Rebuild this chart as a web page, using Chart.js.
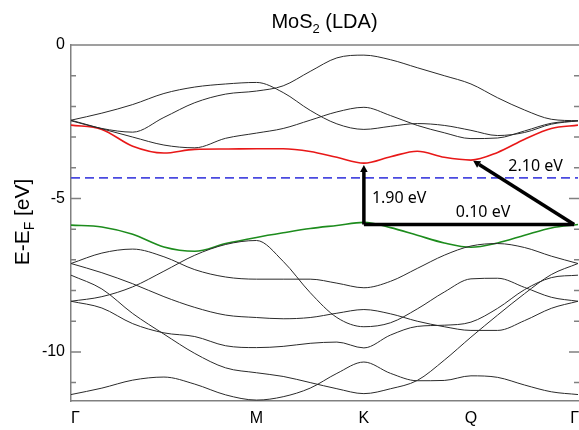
<!DOCTYPE html>
<html lang="en">
<head>
  <meta charset="UTF-8">
  <title>MoS2 (LDA) band structure</title>
  <style>
    html, body { margin: 0; padding: 0; background: #ffffff; }
    #chart-wrap { width: 579px; height: 430px; }
  </style>
</head>
<body>
  <div id="chart-wrap"><canvas id="bandChart"></canvas></div>

  <script src="https://cdn.jsdelivr.net/npm/chart.js@4.4.3/dist/chart.umd.min.js"></script>
  <script>
    // k-path sample points (2pi/a units): Gamma - M - K - Q - Gamma
    const kPath = [0, 0.096, 0.192, 0.289, 0.385, 0.481, 0.577, 0.660, 0.744, 0.827, 0.911,
                   0.994, 1.077, 1.161, 1.244, 1.327, 1.411, 1.494, 1.577];
    const kTicks = [0, 0.577, 0.911, 1.244, 1.577];
    const kLabels = ['Γ', 'M', 'K', 'Q', 'Γ'];
    const yLabelled = [0, -5, -10];

    // conduction bands (eV)
    const cbLowest = [-2.61, -2.75, -3.30, -3.52, -3.40, -3.39, -3.38, -3.38, -3.47, -3.66, -3.85,
                      -3.64, -3.46, -3.66, -3.75, -3.50, -3.07, -2.72, -2.61];
    const cbBandA = [-2.45, -2.22, -1.94, -1.58, -1.37, -1.27, -1.22, -1.55, -2.13, -2.57, -2.75,
                     -2.65, -2.56, -2.62, -2.78, -2.95, -2.85, -2.58, -2.47];
    const cbBandB = [-2.47, -2.72, -2.84, -2.36, -1.88, -1.60, -1.50, -1.33, -0.86, -0.42, -0.33,
                     -0.48, -0.74, -1.00, -1.27, -1.72, -2.12, -2.42, -2.47];
    const cbBandC = [-2.45, -2.73, -3.00, -3.26, -3.35, -3.04, -2.87, -2.72, -2.45, -2.18, -2.03,
                     -2.30, -2.62, -2.86, -3.05, -3.03, -2.80, -2.55, -2.47];

    // valence bands (eV)
    const vbHighest = [-5.87, -5.93, -6.17, -6.58, -6.72, -6.47, -6.27, -6.12, -5.98, -5.88, -5.78,
                       -5.95, -6.20, -6.45, -6.59, -6.45, -6.20, -5.96, -5.85];
    const vbBand1 = [-7.12, -6.78, -6.65, -6.90, -7.32, -7.56, -7.63, -7.63, -7.63, -7.76, -7.91,
                     -7.70, -7.28, -6.85, -6.55, -6.47, -6.60, -6.88, -7.12];
    const vbBand2 = [-7.12, -7.42, -7.78, -8.20, -8.55, -8.80, -8.88, -8.92, -8.88, -8.74, -8.62,
                     -8.76, -9.00, -9.18, -9.30, -9.30, -8.98, -8.58, -8.35];
    const vbBand3 = [-7.50, -7.95, -8.75, -9.42, -10.05, -10.52, -10.68, -10.80, -11.00, -11.20, -11.36,
                     -11.20, -10.93, -10.27, -9.52, -8.80, -8.10, -7.48, -7.12];
    const vbBand4 = [-8.35, -8.20, -7.88, -7.37, -6.85, -6.50, -6.37, -7.05, -8.07, -8.88, -9.18,
                     -9.05, -8.60, -8.05, -7.62, -7.60, -7.90, -8.22, -8.35];
    const vbBand5 = [-8.35, -8.57, -9.08, -9.38, -9.50, -9.80, -9.86, -9.82, -9.72, -9.68, -9.87,
                     -9.45, -9.17, -9.13, -9.03, -8.58, -7.97, -7.58, -7.50];
    const vbBand6 = [-11.39, -11.18, -10.92, -10.82, -11.05, -11.40, -11.57, -11.46, -11.18, -10.70, -10.33,
                     -10.70, -10.94, -10.93, -10.78, -10.83, -11.08, -11.30, -11.39];

    const midGapLevel = -4.33;

    // gap arrows [k1, E1, k2, E2, head at end?]
    const gapArrows = [
      [0.911, -5.85, 0.911, -3.91, true],
      [0.911, -5.85, 1.565, -5.85, false],
      [1.565, -5.85, 1.251, -3.77, true]
    ];
    const gapLabels = [
      { text: '1.90 eV', k: 0.936, e: -5.00, align: 'left' },
      { text: '0.10 eV', k: 1.2815, e: -5.45, align: 'center' },
      { text: '2.10 eV', k: 1.445, e: -3.95, align: 'center' }
    ];

    const FONT = "'Liberation Sans', Arial, Helvetica, sans-serif";
    const FRAME = '#808080';

    function band(vals, color, width) {
      return {
        data: kPath.map((k, i) => ({ x: k, y: vals[i] })),
        borderColor: color,
        borderWidth: width,
        pointRadius: 0,
        fill: false,
        cubicInterpolationMode: 'monotone'
      };
    }

    const blackBands = [cbBandA, cbBandB, cbBandC, vbBand1, vbBand2, vbBand3, vbBand4, vbBand5, vbBand6];
    const datasets = blackBands.map(b => band(b, '#2a2a2a', 1));
    datasets.push({
      data: [{ x: 0, y: midGapLevel }, { x: 1.577, y: midGapLevel }],
      borderColor: '#4a4ae0',
      borderWidth: 1.6,
      borderDash: [9, 5],
      pointRadius: 0,
      fill: false
    });
    datasets.push(band(vbHighest, '#1d8c1d', 1.6));
    datasets.push(band(cbLowest, '#e81818', 1.6));

    // frame, inward ticks, titles, k labels, arrows
    const decorations = {
      id: 'decorations',
      afterDraw(chart) {
        const { ctx, chartArea: a, scales: { x, y } } = chart;
        ctx.save();

        // top border + inward ticks
        ctx.strokeStyle = FRAME;
        ctx.lineWidth = 1.5;
        ctx.beginPath();
        ctx.moveTo(a.left, a.top);
        ctx.lineTo(a.right + 1, a.top);
        y.ticks.forEach(t => {
          const py = y.getPixelForValue(t.value);
          const len = Math.round(t.value) % 5 === 0 ? 10 : 5;
          ctx.moveTo(a.left, py); ctx.lineTo(a.left + len, py);
          ctx.moveTo(a.right + 1, py); ctx.lineTo(a.right + 1 - len, py);
        });
        ctx.stroke();

        // title with subscript
        ctx.fillStyle = '#000';
        ctx.textBaseline = 'alphabetic';
        ctx.textAlign = 'left';
        const big = '20px ' + FONT, small = '13px ' + FONT;
        ctx.font = big;
        const w1 = ctx.measureText('MoS').width, w3 = ctx.measureText(' (LDA)').width;
        ctx.font = small;
        const w2 = ctx.measureText('2').width;
        let tx = (a.left + a.right) / 2 - (w1 + w2 + w3) / 2;
        ctx.font = big; ctx.fillText('MoS', tx, 28);
        ctx.font = small; ctx.fillText('2', tx + w1, 33);
        ctx.font = big; ctx.fillText(' (LDA)', tx + w1 + w2, 28);

        // y axis title, rotated
        ctx.save();
        ctx.translate(29, 222);
        ctx.rotate(-Math.PI / 2);
        const yb = '21px ' + FONT, ys = '14px ' + FONT;
        ctx.font = yb;
        const u1 = ctx.measureText('E-E').width, u3 = ctx.measureText(' [eV]').width;
        ctx.font = ys;
        const u2 = ctx.measureText('F').width;
        let ux = -(u1 + u2 + u3) / 2;
        ctx.font = yb; ctx.fillText('E-E', ux, 0);
        ctx.font = ys; ctx.fillText('F', ux + u1, 5);
        ctx.font = yb; ctx.fillText(' [eV]', ux + u1 + u2, 0);
        ctx.restore();

        // k-point labels
        ctx.font = '16px ' + FONT;
        ctx.textBaseline = 'middle';
        kTicks.forEach((k, i) => {
          const px = x.getPixelForValue(k);
          ctx.textAlign = i === 0 ? 'left' : (i === kTicks.length - 1 ? 'right' : 'center');
          ctx.fillText(kLabels[i], i === kTicks.length - 1 ? px + 1 : px, 419);
        });

        // gap arrows
        ctx.strokeStyle = '#000';
        ctx.fillStyle = '#000';
        ctx.lineWidth = 3.5;
        ctx.lineCap = 'butt';
        gapArrows.forEach(([k1, e1, k2, e2, head]) => {
          const x1 = x.getPixelForValue(k1), y1 = y.getPixelForValue(e1);
          const x2 = x.getPixelForValue(k2), y2 = y.getPixelForValue(e2);
          const ang = Math.atan2(y2 - y1, x2 - x1);
          const hl = head ? 7 : 0;
          ctx.beginPath();
          ctx.moveTo(x1, y1);
          ctx.lineTo(x2 - hl * Math.cos(ang), y2 - hl * Math.sin(ang));
          ctx.stroke();
          if (head) {
            const hw = 3.8;
            const bx = x2 - hl * Math.cos(ang), by = y2 - hl * Math.sin(ang);
            ctx.beginPath();
            ctx.moveTo(x2, y2);
            ctx.lineTo(bx + hw * Math.sin(ang), by - hw * Math.cos(ang));
            ctx.lineTo(bx - hw * Math.sin(ang), by + hw * Math.cos(ang));
            ctx.closePath();
            ctx.fill();
          }
        });

        // gap labels
        ctx.font = "16px 'Noto Sans', 'Liberation Sans', sans-serif";
        ctx.textBaseline = 'middle';
        gapLabels.forEach(l => {
          ctx.textAlign = l.align;
          ctx.fillText(l.text, x.getPixelForValue(l.k), y.getPixelForValue(l.e));
        });

        ctx.restore();
      }
    };

    const ctx = document.getElementById('bandChart').getContext('2d');
    const bandChart = new Chart(ctx, {
      type: 'line',
      data: { datasets: datasets },
      options: {
        responsive: true,
        maintainAspectRatio: false,
        animation: false,
        layout: { padding: { top: 45, right: 1, left: 0, bottom: 0 } },
        plugins: {
          legend: { display: false },
          tooltip: { enabled: false },
          title: { display: false }
        },
        scales: {
          x: {
            type: 'linear',
            min: 0,
            max: 1.577,
            ticks: { display: false },
            grid: { display: false, drawTicks: false },
            border: { display: true, color: FRAME, width: 1.5 },
            afterFit: s => { s.height = 29; }
          },
          y: {
            min: -11.6,
            max: 0,
            ticks: {
              stepSize: 1,
              includeBounds: false,
              padding: 6,
              color: '#000',
              font: { family: FONT, size: 16 },
              callback: v => yLabelled.includes(Math.round(v)) && Math.abs(v - Math.round(v)) < 1e-6 ? String(Math.round(v)) : ''
            },
            grid: { display: false, drawTicks: false },
            border: { display: true, color: FRAME, width: 1.5 },
            afterFit: s => { s.width = 71; }
          }
        }
      },
      plugins: [decorations]
    });
  </script>
</body>
</html>
